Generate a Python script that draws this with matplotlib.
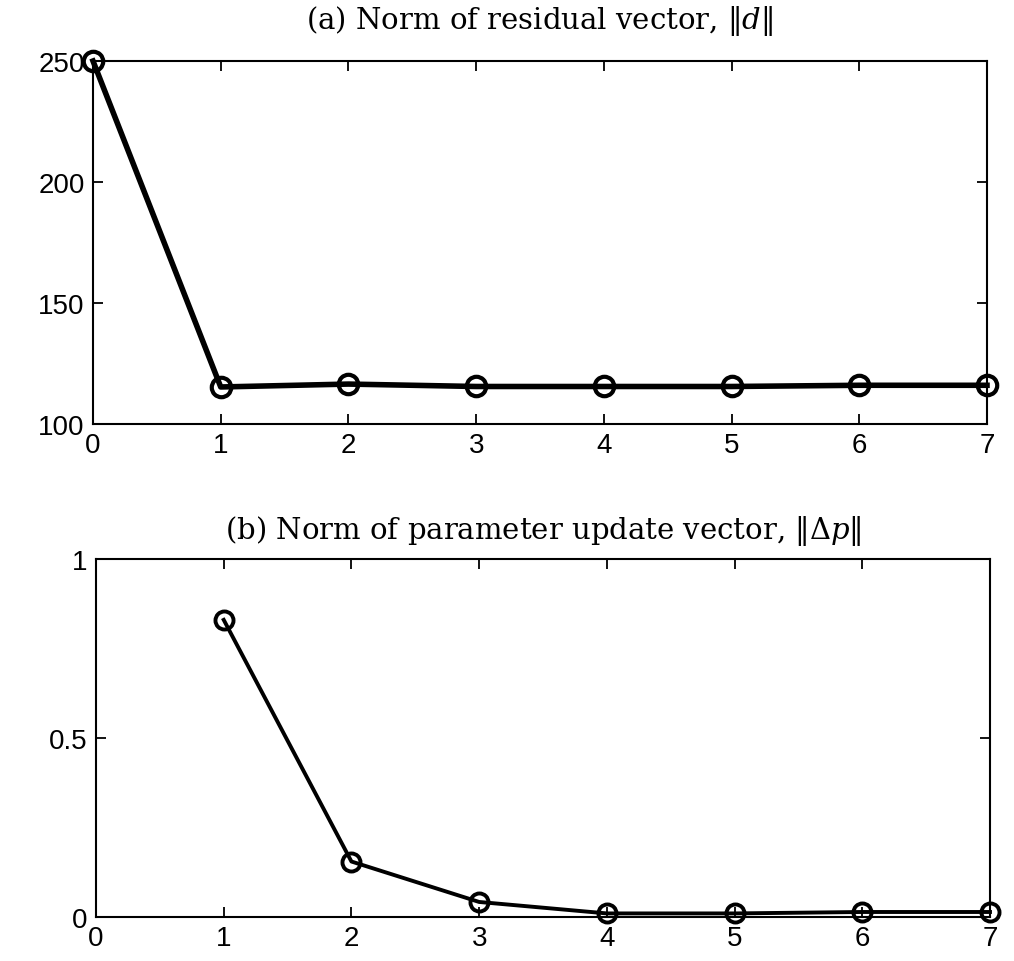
import matplotlib
matplotlib.use('Agg')
import matplotlib.pyplot as plt

# data
iters_d = [0, 1, 2, 3, 4, 5, 6, 7]
norm_d = [250, 115.3, 116.5, 115.5, 115.5, 115.5, 116.0, 116.0]

iters_p = [1, 2, 3, 4, 5, 6, 7]
norm_dp = [0.83, 0.155, 0.042, 0.01, 0.01, 0.014, 0.014]

xticks = [0, 1, 2, 3, 4, 5, 6, 7]
yticks_d = [100, 150, 200, 250]
yticks_p = [0, 0.5, 1]

plt.rcParams['font.family'] = ['Liberation Sans', 'DejaVu Sans']
plt.rcParams['mathtext.fontset'] = 'dejavuserif'

fig = plt.figure(figsize=(10.14, 9.62), dpi=100)
ax1 = fig.add_axes([93 / 1014, 1 - 425 / 962, (987 - 93) / 1014, (425 - 62) / 962])
ax2 = fig.add_axes([96 / 1014, 1 - 918 / 962, (990 - 96) / 1014, (918 - 560) / 962])

ax1.plot(iters_d, norm_d, color='black', lw=4, marker='o', markersize=14,
         markerfacecolor='none', markeredgewidth=3, clip_on=False, zorder=3)
ax2.plot(iters_p, norm_dp, color='black', lw=2.8, marker='o', markersize=13,
         markerfacecolor='none', markeredgewidth=2.8, clip_on=False, zorder=3)

ax1.set_xlim(0, 7)
ax1.set_ylim(100, 250)
ax1.set_yticks(yticks_d)
ax2.set_xlim(0, 7)
ax2.set_ylim(0, 1)
ax2.set_yticks(yticks_p)
ax2.set_yticklabels(['0', '0.5', '1'])

for ax in (ax1, ax2):
    ax.set_xticks(xticks)
    ax.tick_params(direction='in', top=True, right=True, length=7, width=1.3,
                   labelsize=20, pad=6)
    for s in ax.spines.values():
        s.set_linewidth(1.5)

ax1.set_title(r'(a) Norm of residual vector, $\|d\|$', fontsize=21,
              family='DejaVu Serif', pad=24)
ax2.set_title(r'(b) Norm of parameter update vector, $\|\Delta p\|$', fontsize=21,
              family='DejaVu Serif', pad=15)

fig.savefig('out.png', dpi=100, facecolor='white')
